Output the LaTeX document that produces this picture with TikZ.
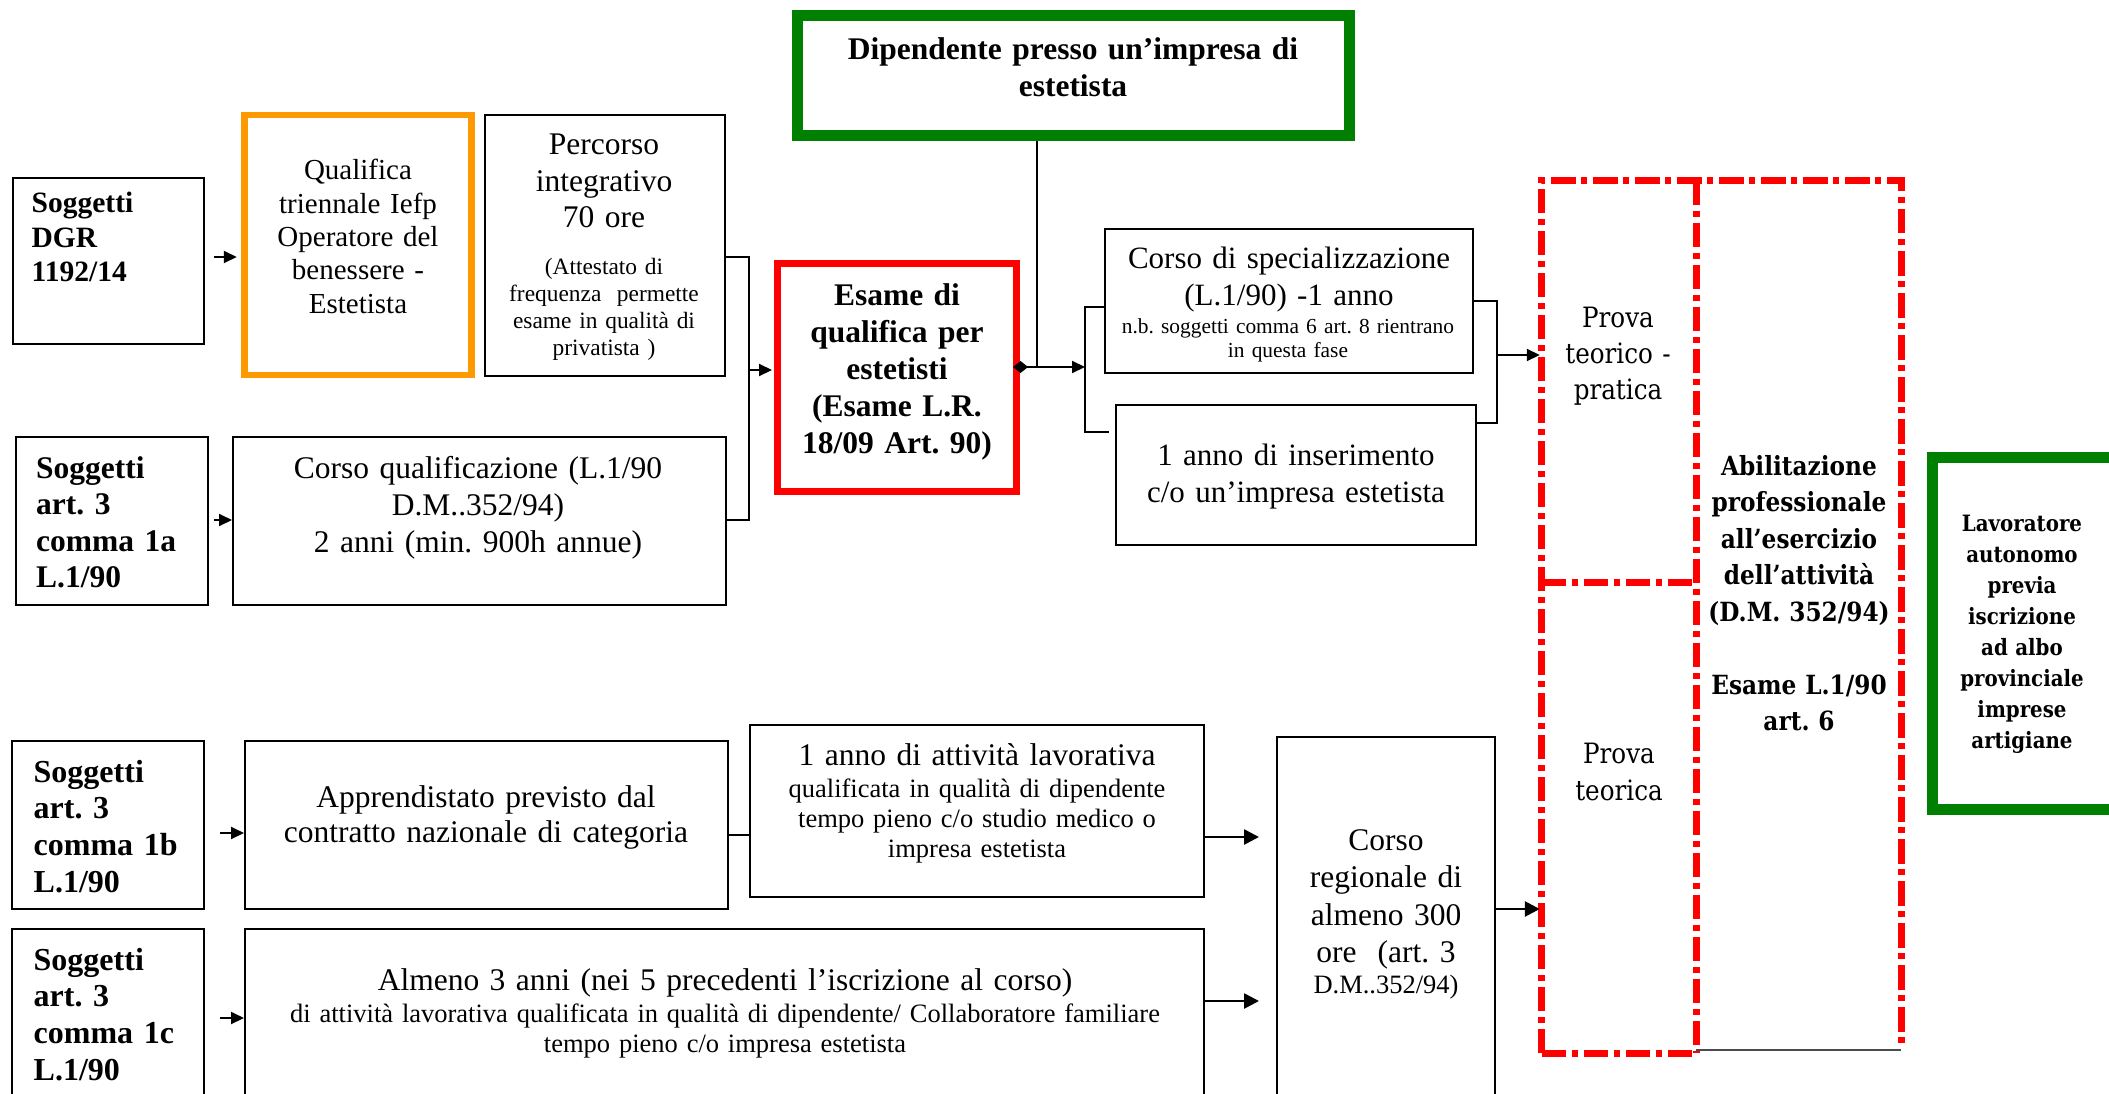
\documentclass[tikz,border=0pt]{standalone}
\usepackage{fontspec}
\setmainfont{Liberation Serif}
\newfontfamily\bk[FakeStretch=0.88]{DejaVu Serif}
\usetikzlibrary{arrows.meta,calc}
\definecolor{orng}{RGB}{255,153,0}
\definecolor{grn}{RGB}{0,128,0}
\definecolor{rd}{RGB}{255,0,0}
\frenchspacing
\newcommand{\bx}[6]{\node[#6, minimum width={#4-#2}, minimum height={#5-#3}] (#1) at ({(#2+#4)/2},{(#3+#5)/2}) {};}
\begin{document}
\frenchspacing
\begin{tikzpicture}[x=1pt,y=-1pt,
  box/.style={draw=black,line width=2pt,inner sep=0pt},
  obox/.style={draw=orng,line width=6.5pt,inner sep=0pt},
  rbox/.style={draw=rd,line width=7pt,inner sep=0pt},
  gbox/.style={draw=grn,line width=11pt,inner sep=0pt},
  zone/.style={inner sep=0pt},
  rdd/.style={draw=rd,line width=7pt,dash pattern=on 24.5pt off 5.5pt on 6pt off 6pt},
  ln/.style={draw=black,line width=2pt},
  thinln/.style={draw=black!70,line width=1.5pt},
  arr/.style={line width=2pt,-{Triangle[length=13pt,width=12pt]}},
  arrB/.style={line width=2.6pt,-{Triangle[length=15pt,width=15pt]}},
  darr/.style={line width=2pt,{Diamond[length=15pt,width=12pt]}-{Triangle[length=13pt,width=12pt]}},
  tx/.style={inner sep=0pt,align=center,anchor=base},
  tl/.style={inner sep=0pt,align=left,anchor=base west,text width=170pt},
  big/.style={font=\fontsize{31.5}{36.5}\selectfont},
  bigb/.style={font=\fontsize{31.5}{36.5}\selectfont\bfseries},
]
\clip (0,0) rectangle (2109,1094);
\fill[white] (0,0) rectangle (2109,1094);

% boxes
\bx{sogDGR}{13}{178}{204}{344}{box}
\bx{qual}{244.5}{115}{471.5}{375}{obox}
\bx{perc}{485}{115}{725}{376}{box}
\bx{sogA}{16}{437}{208}{605}{box}
\bx{corsoQ}{233}{437}{726}{605}{box}
\bx{esame}{777}{263.5}{1016}{491.5}{rbox}
\bx{dip}{797}{16}{1349}{136}{gbox}
\bx{corsoSpec}{1105}{229}{1473}{373}{box}
\bx{annoI}{1116}{405}{1476}{545}{box}
\bx{lav}{1932}{457}{2150}{809}{gbox}
\bx{sogB}{12}{741}{204}{909}{box}
\bx{appr}{245}{741}{728}{909}{box}
\bx{annoAtt}{750}{725}{1204}{897}{box}
\bx{sogC}{12}{929}{204}{1130}{box}
\bx{almeno}{245}{929}{1204}{1130}{box}
\bx{corsoReg}{1277}{737}{1495}{1130}{box}
\bx{ptp}{1542}{181}{1696}{582}{zone}
\bx{pt}{1542}{582}{1696}{1053}{zone}
\bx{abil}{1696}{181}{1901}{1050}{zone}

% red dash-dot frame
\draw[thinln] (abil.south west) -- (abil.south east);
\draw[rdd] (pt.south west) -- (ptp.north west) -- (abil.north east) -- ([yshift=5pt]abil.south east);
\draw[rdd] (ptp.north east) -- (pt.south east);
\draw[rdd] (ptp.south west) -- (ptp.south east);
\draw[rdd] (pt.south west) -- (pt.south east);

% texts
\node[tl,font=\fontsize{29.5}{34.5}\selectfont\bfseries] (tDGR) at (31.5,213) {Soggetti\\DGR\\1192/14};
\node[tx,text width=225pt,font=\fontsize{29}{33.3}\selectfont] (tQual) at (358,180) {Qualifica\\triennale Iefp\\Operatore del\\benessere -\\Estetista};
\node[tx,text width=235pt,big] (tPerc) at (604,155) {Percorso\\integrativo\\70 ore};
\node[tx,text width=235pt,font=\fontsize{23.4}{27.3}\selectfont] (tPercS) at (604,274) {(Attestato di\\frequenza\ \ permette\\esame in qualità di\\privatista )};
\node[tl,bigb] (tA) at (36,478) {Soggetti\\art. 3\\comma 1a\\L.1/90};
\node[tx,text width=485pt,font=\fontsize{31.5}{37}\selectfont] (tCorsoQ) at (478,478) {Corso qualificazione (L.1/90\\D.M..352/94)\\2 anni (min. 900h annue)};
\node[tx,text width=230pt,font=\fontsize{31.5}{37}\selectfont\bfseries] (tEsame) at (897,305) {Esame di\\qualifica per\\estetisti\\(Esame L.R.\\18/09 Art. 90)};
\node[tx,text width=540pt,font=\fontsize{31.5}{37}\selectfont\bfseries] (tDip) at (1073,60) {Dipendente presso un’impresa di\\estetista};
\node[tx,text width=360pt,font=\fontsize{31}{37}\selectfont] (tSpec) at (1289,268) {Corso di specializzazione\\(L.1/90) -1 anno};
\node[tx,text width=360pt,font=\fontsize{21.4}{24}\selectfont] (tSpecS) at (1288,333) {n.b. soggetti comma 6 art. 8 rientrano\\in questa fase};
\node[tx,text width=350pt,font=\fontsize{31}{37}\selectfont] (tAnnoI) at (1296,465) {1 anno di inserimento\\c/o un’impresa estetista};
\node[tx,text width=150pt,font=\bk\fontsize{28}{36}\selectfont] (tPTP) at (1618,327) {Prova\\teorico -\\pratica};
\node[tx,text width=150pt,font=\bk\fontsize{28}{37}\selectfont] (tPT) at (1619,763) {Prova\\teorica};
\node[tx,text width=205pt,font=\bk\bfseries\fontsize{26.4}{36.5}\selectfont] (tAbil) at (1799,475) {Abilitazione\\professionale\\all’esercizio\\dell’attività\\(D.M. 352/94)\\[36.5pt]Esame L.1/90\\art. 6};
\node[tx,text width=175pt,font=\bk\bfseries\fontsize{22.5}{31}\selectfont] (tLav) at (2022,531) {Lavoratore\\autonomo\\previa\\iscrizione\\ad albo\\provinciale\\imprese\\artigiane};
\node[tl,font=\fontsize{32}{36.7}\selectfont\bfseries] (tB) at (33.5,782) {Soggetti\\art. 3\\comma 1b\\L.1/90};
\node[tx,text width=475pt,font=\fontsize{31.5}{35}\selectfont] (tAppr) at (486,807) {Apprendistato previsto dal\\contratto nazionale di categoria};
\node[tx,text width=450pt,big] (tAnnoAtt) at (977,765) {1 anno di attività lavorativa};
\node[tx,text width=450pt,font=\fontsize{26.5}{30}\selectfont] (tAnnoAttS) at (977,797) {qualificata in qualità di dipendente\\tempo pieno c/o studio medico o\\impresa estetista};
\node[tl,font=\fontsize{32}{36.7}\selectfont\bfseries] (tC) at (33.5,970) {Soggetti\\art. 3\\comma 1c\\L.1/90};
\node[tx,text width=950pt,big] (tAlm) at (725,990) {Almeno 3 anni (nei 5 precedenti l’iscrizione al corso)};
\node[tx,text width=950pt,font=\fontsize{26.5}{30.5}\selectfont] (tAlmS) at (725,1022) {di attività lavorativa qualificata in qualità di dipendente/ Collaboratore familiare\\tempo pieno c/o impresa estetista};
\node[tx,text width=212pt,font=\fontsize{31.5}{37.5}\selectfont] (tReg) at (1386,850) {Corso\\regionale di\\almeno 300\\ore\ \ (art. 3};
\node[tx,text width=212pt,font=\fontsize{26.5}{30}\selectfont] (tRegS) at (1386,993) {D.M..352/94)};

% connectors
\coordinate (b1t) at (749,257);
\coordinate (b1b) at (749,520);
\coordinate (j) at (1037,367);
\coordinate (b2t) at (1085,307);
\coordinate (b2m) at (1085,367);
\coordinate (b2b) at (1085,432);
\coordinate (b3t) at (1497,301);
\coordinate (b3b) at (1497,423);

\draw[arr,shorten <=9pt,shorten >=4.5pt] (sogDGR.east |- 0,257) -- (qual.west |- 0,257);
\draw[arr,shorten <=5pt] (sogA.east |- 0,520) -- (corsoQ.west |- 0,520);
\draw[ln] (perc.east |- b1t) -- (b1t) -- (b1b) -- (corsoQ.east |- b1b);
\draw[arr,shorten >=1.5pt] (b1t |- 0,370) -- (esame.west |- 0,370);
\draw[ln] (dip.south -| j) -- (j);
\draw[darr,shorten <=-6.5pt] (esame.east |- j) -- (b2m);
\draw[ln] (corsoSpec.west |- b2t) -- (b2t) -- (b2b) -- ([xshift=-6pt]annoI.west |- b2b);
\draw[ln] (corsoSpec.east |- b3t) -- (b3t) -- (b3b) -- (annoI.east |- b3b);
\draw[arr,line width=1.6pt,shorten >=2pt] (b3t |- 0,355) -- (ptp.west |- 0,355);
\draw[ln] (appr.east |- 0,835) -- (annoAtt.west |- 0,835);
\draw[arrB,shorten >=17pt] (annoAtt.east |- 0,837) -- (corsoReg.west |- 0,837);
\draw[arrB,shorten >=17pt] (almeno.east |- 0,1001) -- (corsoReg.west |- 0,1001);
\draw[arrB,shorten >=2pt] (corsoReg.east |- 0,909) -- (pt.west |- 0,909);
\draw[arr,shorten <=15pt] (sogB.east |- 0,833) -- (appr.west |- 0,833);
\draw[arr,shorten <=15pt] (sogC.east |- 0,1018) -- (almeno.west |- 0,1018);
\end{tikzpicture}
\end{document}
